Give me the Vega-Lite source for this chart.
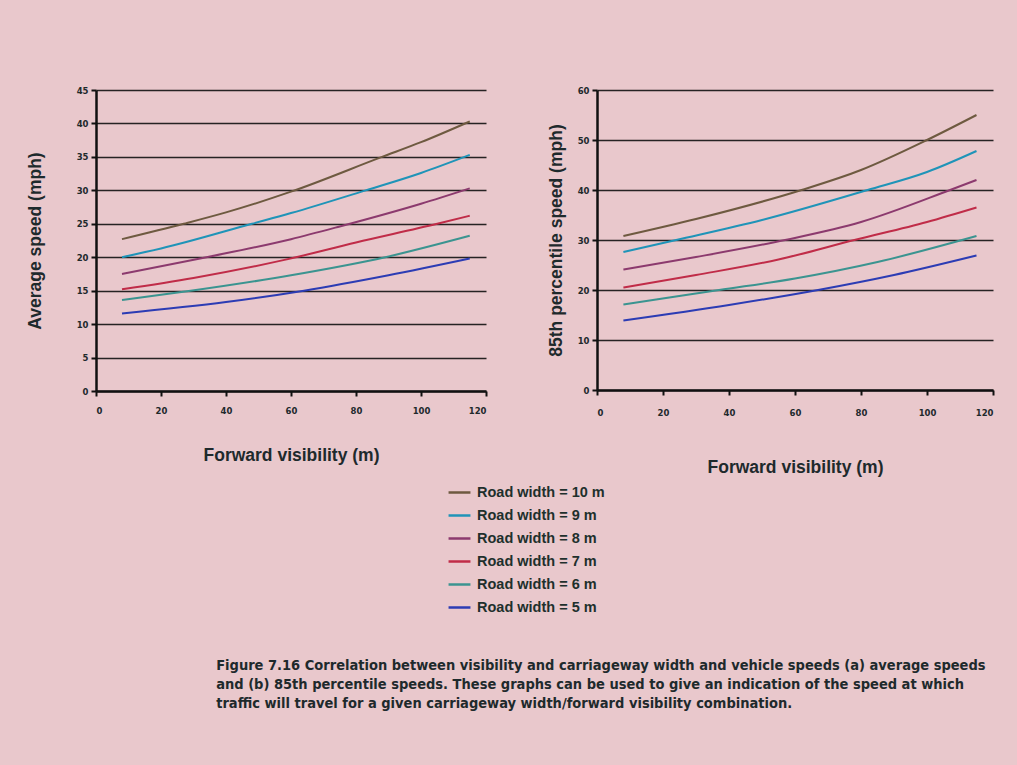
{
  "$schema": "https://vega.github.io/schema/vega-lite/v6.json",
  "background": "#e9c8cc",
  "padding": {"left": 26, "top": 86, "right": 23, "bottom": 55},
  "datasets": {
    "avg": [
      {"road": "Road width = 10 m", "visibility": 8, "speed": 22.7},
      {"road": "Road width = 10 m", "visibility": 27, "speed": 25.0},
      {"road": "Road width = 10 m", "visibility": 40, "speed": 26.7},
      {"road": "Road width = 10 m", "visibility": 60, "speed": 29.8},
      {"road": "Road width = 10 m", "visibility": 88, "speed": 35.0},
      {"road": "Road width = 10 m", "visibility": 100, "speed": 37.2},
      {"road": "Road width = 10 m", "visibility": 115, "speed": 40.3},
      {"road": "Road width = 9 m", "visibility": 8, "speed": 20.0},
      {"road": "Road width = 9 m", "visibility": 20, "speed": 21.3},
      {"road": "Road width = 9 m", "visibility": 48, "speed": 25.0},
      {"road": "Road width = 9 m", "visibility": 60, "speed": 26.6},
      {"road": "Road width = 9 m", "visibility": 83, "speed": 30.0},
      {"road": "Road width = 9 m", "visibility": 100, "speed": 32.6},
      {"road": "Road width = 9 m", "visibility": 115, "speed": 35.3},
      {"road": "Road width = 8 m", "visibility": 8, "speed": 17.5},
      {"road": "Road width = 8 m", "visibility": 34, "speed": 20.0},
      {"road": "Road width = 8 m", "visibility": 60, "speed": 22.7},
      {"road": "Road width = 8 m", "visibility": 75, "speed": 24.6},
      {"road": "Road width = 8 m", "visibility": 100, "speed": 28.0},
      {"road": "Road width = 8 m", "visibility": 115, "speed": 30.3},
      {"road": "Road width = 7 m", "visibility": 8, "speed": 15.2},
      {"road": "Road width = 7 m", "visibility": 30, "speed": 16.9},
      {"road": "Road width = 7 m", "visibility": 58, "speed": 19.6},
      {"road": "Road width = 7 m", "visibility": 80, "speed": 22.2},
      {"road": "Road width = 7 m", "visibility": 105, "speed": 25.0},
      {"road": "Road width = 7 m", "visibility": 115, "speed": 26.2},
      {"road": "Road width = 6 m", "visibility": 8, "speed": 13.6},
      {"road": "Road width = 6 m", "visibility": 28, "speed": 14.9},
      {"road": "Road width = 6 m", "visibility": 60, "speed": 17.3},
      {"road": "Road width = 6 m", "visibility": 89, "speed": 20.0},
      {"road": "Road width = 6 m", "visibility": 115, "speed": 23.2},
      {"road": "Road width = 5 m", "visibility": 8, "speed": 11.6},
      {"road": "Road width = 5 m", "visibility": 40, "speed": 13.3},
      {"road": "Road width = 5 m", "visibility": 64, "speed": 15.0},
      {"road": "Road width = 5 m", "visibility": 90, "speed": 17.3},
      {"road": "Road width = 5 m", "visibility": 115, "speed": 19.8}
    ],
    "p85": [
      {"road": "Road width = 10 m", "visibility": 8, "speed": 30.8},
      {"road": "Road width = 10 m", "visibility": 30, "speed": 34.2},
      {"road": "Road width = 10 m", "visibility": 62, "speed": 40.0},
      {"road": "Road width = 10 m", "visibility": 80, "speed": 44.0},
      {"road": "Road width = 10 m", "visibility": 100, "speed": 50.0},
      {"road": "Road width = 10 m", "visibility": 115, "speed": 55.0},
      {"road": "Road width = 9 m", "visibility": 8, "speed": 27.6},
      {"road": "Road width = 9 m", "visibility": 24, "speed": 30.0},
      {"road": "Road width = 9 m", "visibility": 50, "speed": 34.0},
      {"road": "Road width = 9 m", "visibility": 82, "speed": 40.0},
      {"road": "Road width = 9 m", "visibility": 100, "speed": 43.6},
      {"road": "Road width = 9 m", "visibility": 115, "speed": 47.8},
      {"road": "Road width = 8 m", "visibility": 8, "speed": 24.1},
      {"road": "Road width = 8 m", "visibility": 30, "speed": 26.6},
      {"road": "Road width = 8 m", "visibility": 57, "speed": 30.0},
      {"road": "Road width = 8 m", "visibility": 80, "speed": 33.6},
      {"road": "Road width = 8 m", "visibility": 107, "speed": 40.0},
      {"road": "Road width = 8 m", "visibility": 115, "speed": 42.0},
      {"road": "Road width = 7 m", "visibility": 8, "speed": 20.5},
      {"road": "Road width = 7 m", "visibility": 30, "speed": 23.0},
      {"road": "Road width = 7 m", "visibility": 55, "speed": 26.1},
      {"road": "Road width = 7 m", "visibility": 78, "speed": 30.0},
      {"road": "Road width = 7 m", "visibility": 100, "speed": 33.6},
      {"road": "Road width = 7 m", "visibility": 115, "speed": 36.5},
      {"road": "Road width = 6 m", "visibility": 8, "speed": 17.1},
      {"road": "Road width = 6 m", "visibility": 37, "speed": 20.0},
      {"road": "Road width = 6 m", "visibility": 60, "speed": 22.3},
      {"road": "Road width = 6 m", "visibility": 85, "speed": 25.6},
      {"road": "Road width = 6 m", "visibility": 115, "speed": 30.8},
      {"road": "Road width = 5 m", "visibility": 8, "speed": 13.9},
      {"road": "Road width = 5 m", "visibility": 40, "speed": 17.0},
      {"road": "Road width = 5 m", "visibility": 67, "speed": 20.0},
      {"road": "Road width = 5 m", "visibility": 90, "speed": 23.0},
      {"road": "Road width = 5 m", "visibility": 115, "speed": 26.9}
    ]
  },
  "config": {
    "view": {"stroke": null},
    "font": "Liberation Sans",
    "axis": {
      "domainColor": "#111111",
      "domainWidth": 2.5,
      "gridColor": "#111111",
      "gridWidth": 1.4,
      "gridOpacity": 0.9,
      "tickColor": "#111111",
      "tickWidth": 2,
      "tickSize": 5,
      "labelFont": "DejaVu Sans",
      "labelFontWeight": "bold",
      "labelFontSize": 8.5,
      "labelColor": "#1e2a2c",
      "titleFont": "Liberation Sans",
      "titleFontWeight": "bold",
      "titleFontSize": 17.5,
      "titleColor": "#1e2a2c"
    },
    "title": {"color": "#1e2a2c"}
  },
  "title": {
    "text": [
      "Figure 7.16 Correlation between visibility and carriageway width and vehicle speeds (a) average speeds",
      "and (b) 85th percentile speeds. These graphs can be used to give an indication of the speed at which",
      "traffic will travel for a given carriageway width/forward visibility combination."
    ],
    "orient": "bottom",
    "anchor": "start",
    "dx": 190,
    "offset": 45,
    "font": "Liberation Sans Narrow, DejaVu Sans Condensed, sans-serif",
    "fontSize": 14.5,
    "fontWeight": "bold",
    "lineHeight": 19,
    "color": "#1e2a2c"
  },
  "resolve": {"scale": {"color": "shared"}, "legend": {"color": "shared"}},
  "spacing": 60,
  "hconcat": [
    {
      "width": 390,
      "height": 301,
      "data": {"name": "avg"},
      "mark": {"type": "line", "interpolate": "monotone", "strokeWidth": 2},
      "encoding": {
        "x": {
          "field": "visibility", "type": "quantitative",
          "scale": {"domain": [0, 120], "nice": false},
          "axis": {"values": [0, 20, 40, 60, 80, 100, 120], "title": "Forward visibility (m)", "labelPadding": 10, "titlePadding": 32, "gridOpacity": 0}
        },
        "y": {
          "field": "speed", "type": "quantitative",
          "scale": {"domain": [0, 45], "nice": false},
          "axis": {"values": [0, 5, 10, 15, 20, 25, 30, 35, 40, 45], "title": "Average speed (mph)", "labelPadding": 3, "titlePadding": 32}
        },
        "color": {
          "field": "road", "type": "nominal",
          "scale": {
            "domain": ["Road width = 10 m", "Road width = 9 m", "Road width = 8 m", "Road width = 7 m", "Road width = 6 m", "Road width = 5 m"],
            "range": ["#6e5a40", "#1f94b8", "#8c3a6e", "#c02c48", "#3b9490", "#2c3cb4"]
          },
          "legend": {
            "title": null,
            "orient": "none",
            "legendX": 351,
            "legendY": 390,
            "symbolType": "stroke",
            "symbolSize": 480,
            "symbolStrokeWidth": 2.5,
            "labelFont": "Liberation Sans",
            "labelFontWeight": "bold",
            "labelFontSize": 14.5,
            "labelColor": "#1e302c",
            "rowPadding": 4,
            "labelOffset": 5
          }
        }
      }
    },
    {
      "width": 396,
      "height": 300,
      "data": {"name": "p85"},
      "mark": {"type": "line", "interpolate": "monotone", "strokeWidth": 2},
      "encoding": {
        "x": {
          "field": "visibility", "type": "quantitative",
          "scale": {"domain": [0, 120], "nice": false},
          "axis": {"values": [0, 20, 40, 60, 80, 100, 120], "title": "Forward visibility (m)", "labelPadding": 13, "titlePadding": 42, "gridOpacity": 0}
        },
        "y": {
          "field": "speed", "type": "quantitative",
          "scale": {"domain": [0, 60], "nice": false},
          "axis": {"values": [0, 10, 20, 30, 40, 50, 60], "title": "85th percentile speed (mph)", "labelPadding": 3, "titlePadding": 12}
        },
        "color": {"field": "road", "type": "nominal", "legend": null}
      }
    }
  ]
}
